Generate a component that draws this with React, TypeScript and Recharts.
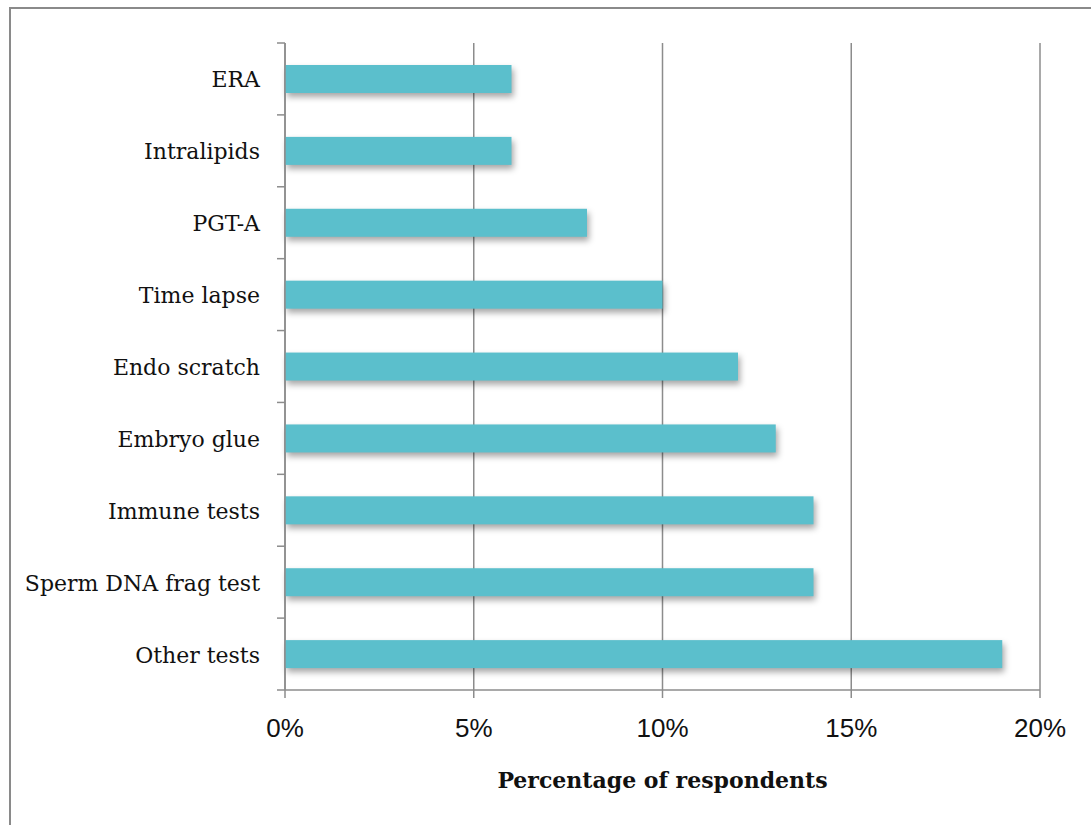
import React from "react";
import { BarChart, Bar, XAxis, YAxis, CartesianGrid } from "recharts";

// Share of respondents for each add-on / test
const categories = [
  "ERA",
  "Intralipids",
  "PGT-A",
  "Time lapse",
  "Endo scratch",
  "Embryo glue",
  "Immune tests",
  "Sperm DNA frag test",
  "Other tests",
];
const percentages = [6, 6, 8, 10, 12, 13, 14, 14, 19];
const xTicks = [0, 5, 10, 15, 20];

const data = categories.map((name, i) => ({ name, value: percentages[i] }));

const W = 1091;
const H = 825;
const MARGIN = { top: 43, right: 51, bottom: 0, left: 0 };
const Y_AXIS_W = 285;
const X_AXIS_H = 135;
const PLOT_H = H - MARGIN.top - MARGIN.bottom - X_AXIS_H;
const BAND = PLOT_H / categories.length;

const AXIS_COLOR = "#8c8c8c";
const BAR_COLOR = "#5bbfcc";
const SERIF = "'DejaVu Serif', serif";
const SANS = "'Liberation Sans', Arial, sans-serif";

// Category label plus Excel-style tick marks on the band boundaries
const CategoryTick = (props: any) => {
  const { x, y, payload, index } = props;
  const axisX = Y_AXIS_W + MARGIN.left;
  const top = y - BAND / 2;
  const bottom = y + BAND / 2;
  return (
    <g>
      <line x1={axisX - 8} x2={axisX} y1={top} y2={top} stroke={AXIS_COLOR} strokeWidth={1.5} />
      {index === categories.length - 1 && (
        <line x1={axisX - 8} x2={axisX} y1={bottom} y2={bottom} stroke={AXIS_COLOR} strokeWidth={1.5} />
      )}
      <text
        x={x - 17}
        y={y}
        dy={8.5}
        textAnchor="end"
        fontFamily={SERIF}
        fontSize={22}
        fill="#111"
      >
        {payload.value}
      </text>
    </g>
  );
};

const PercentTick = (props: any) => {
  const { x, y, payload } = props;
  return (
    <text x={x} y={y} dy={37} textAnchor="middle" fontFamily={SANS} fontSize={26} fill="#111">
      {`${payload.value}%`}
    </text>
  );
};

const ShadowBar = (props: any) => {
  const { x, y, width, height } = props;
  return (
    <rect
      x={x}
      y={y}
      width={width}
      height={height}
      fill={BAR_COLOR}
      style={{ filter: "drop-shadow(2px 4px 3px rgba(0,0,0,0.35))" }}
    />
  );
};

export default function App() {
  return (
    <div
      style={{
        position: "absolute",
        left: 0,
        top: 0,
        width: W,
        height: H,
        overflow: "hidden",
        background: "#fff",
      }}
    >
      <div
        style={{
          position: "absolute",
          left: 9,
          top: 7,
          width: W + 50,
          height: H + 50,
          borderLeft: "2px solid #8a8a8a",
          borderTop: "2px solid #8a8a8a",
        }}
      />
      <div style={{ position: "absolute", left: 0, top: 0 }}>
        <BarChart
          width={W}
          height={H}
          data={data}
          layout="vertical"
          margin={MARGIN}
          barSize={28}
        >
          <CartesianGrid
            horizontal={false}
            vertical={true}
            stroke={AXIS_COLOR}
            strokeWidth={1.5}
          />
          <XAxis
            type="number"
            domain={[0, 20]}
            ticks={xTicks}
            interval={0}
            height={X_AXIS_H}
            axisLine={{ stroke: AXIS_COLOR, strokeWidth: 1.5 }}
            tickLine={{ stroke: AXIS_COLOR, strokeWidth: 1.5 }}
            tickSize={8}
            tick={<PercentTick />}
            label={{
              value: "Percentage of respondents",
              position: "insideBottom",
              offset: 37,
              style: {
                fontFamily: SERIF,
                fontWeight: "bold",
                fontSize: 22,
                fill: "#111",
              },
            }}
          />
          <YAxis
            type="category"
            dataKey="name"
            width={Y_AXIS_W}
            axisLine={{ stroke: AXIS_COLOR, strokeWidth: 1.5 }}
            tickLine={false}
            tick={<CategoryTick />}
            interval={0}
          />
          <Bar dataKey="value" fill={BAR_COLOR} shape={<ShadowBar />} isAnimationActive={false} />
        </BarChart>
      </div>
    </div>
  );
}
